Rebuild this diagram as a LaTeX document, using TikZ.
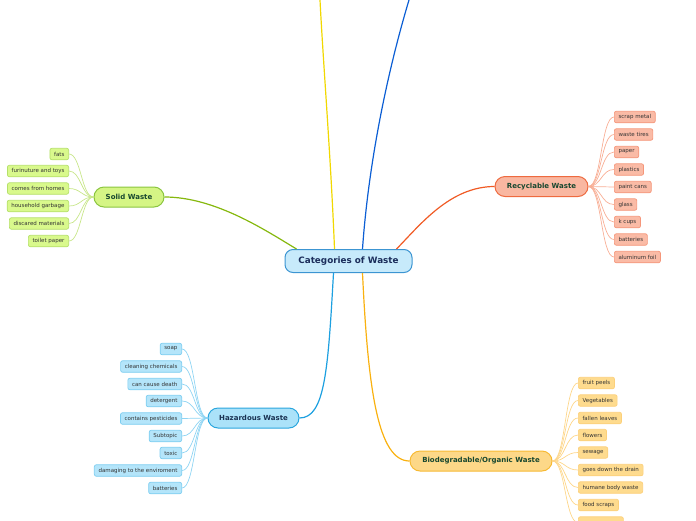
\documentclass[tikz,border=0pt]{standalone}
\usepackage{fontspec}
\setmainfont{DejaVu Sans}
\definecolor{cfill}{HTML}{C7EAFB}
\definecolor{cdraw}{HTML}{3C95D2}
\definecolor{ctext}{HTML}{1B2D5B}
\definecolor{mtext}{HTML}{17472F}
\definecolor{ltext}{HTML}{333333}
\definecolor{sfill}{HTML}{D5F585}
\definecolor{sdraw}{HTML}{8BC53F}
\definecolor{slfill}{HTML}{D9F98C}
\definecolor{sldraw}{HTML}{B5E06A}
\definecolor{slcon}{HTML}{C8E68A}
\definecolor{scon}{HTML}{86B80E}
\definecolor{rfill}{HTML}{F9B7A1}
\definecolor{rdraw}{HTML}{EE6A3F}
\definecolor{rlfill}{HTML}{FABBA6}
\definecolor{rldraw}{HTML}{F5967A}
\definecolor{rlcon}{HTML}{F8AE95}
\definecolor{rcon}{HTML}{F05A24}
\definecolor{hfill}{HTML}{ABE2F9}
\definecolor{hdraw}{HTML}{2AA6DE}
\definecolor{hlfill}{HTML}{B4E5FA}
\definecolor{hldraw}{HTML}{7CCDF0}
\definecolor{hlcon}{HTML}{8ED4F3}
\definecolor{hcon}{HTML}{1DA0E0}
\definecolor{bfill}{HTML}{FDD888}
\definecolor{bdraw}{HTML}{F7BA34}
\definecolor{blfill}{HTML}{FEDB8E}
\definecolor{bldraw}{HTML}{FCD07A}
\definecolor{blcon}{HTML}{FDD68A}
\definecolor{bcon}{HTML}{F9B10F}
\definecolor{ycon}{HTML}{F1D800}
\definecolor{dcon}{HTML}{0B5ED4}
\begin{document}
\begin{tikzpicture}[x=1pt,y=-1pt,
  leaf/.style={draw, rounded corners=2pt, minimum height=11.5pt, inner xsep=4.2pt, inner ysep=0pt,
    font=\fontsize{5.5}{6}\selectfont, text=ltext, line width=0.7pt},
  mainnode/.style={draw, rounded corners=10pt, minimum height=20pt, inner xsep=4pt, inner ysep=0pt,
    font=\bfseries\fontsize{7}{8}\selectfont, text=mtext, line width=1pt},
  sleaf/.style={leaf, fill=slfill, draw=sldraw, anchor=east},
  rleaf/.style={leaf, fill=rlfill, draw=rldraw, anchor=west},
  hleaf/.style={leaf, fill=hlfill, draw=hldraw, anchor=east},
  bleaf/.style={leaf, fill=blfill, draw=bldraw, anchor=west},
  maincon/.style={line width=1.2pt},
  leafcon/.style={line width=0.7pt}]
\useasboundingbox (0,0) rectangle (696,520);
\clip (0,0) rectangle (696,520);

% central
\node[draw=cdraw, fill=cfill, rounded corners=8pt, line width=1pt, minimum width=127pt, minimum height=23pt,
  inner sep=0pt, font=\bfseries\fontsize{8.8}{10}\selectfont, text=ctext] (c) at (348.5,261) {Categories of Waste};

% main topics
\node[mainnode, fill=sfill, draw=sdraw, minimum width=70pt] (solid) at (129,197) {Solid Waste};
\node[mainnode, fill=rfill, draw=rdraw, minimum width=93pt] (rec) at (541.5,186.5) {Recyclable Waste};
\node[mainnode, fill=hfill, draw=hdraw, minimum width=91pt, text=ctext!80!mtext] (haz) at (253.5,418) {Hazardous Waste};
\node[mainnode, fill=bfill, draw=bdraw, minimum width=142pt] (bio) at (481,461) {Biodegradable/Organic Waste};

% free ends of branches leaving the picture
\coordinate (topy) at (320,0);
\coordinate (topb) at (409,0);

% main connectors
\draw[maincon, draw=ycon] ([xshift=-14pt]c.north) .. controls (331,160) and (323,60) .. (topy);
\draw[maincon, draw=dcon] ([xshift=14pt]c.north) .. controls (368,170) and (385,80) .. (topb);
\draw[maincon, draw=scon] ([xshift=-52pt]c.north) .. controls (265,230) and (215,197) .. (solid.east);
\draw[maincon, draw=rcon] ([xshift=48pt]c.north) .. controls (420,225) and (450,186.5) .. (rec.west);
\draw[maincon, draw=hcon] ([xshift=-15pt]c.south) .. controls (328,370) and (325,418) .. (haz.east);
\draw[maincon, draw=bcon] ([xshift=14pt]c.south) .. controls (368,390) and (378,461) .. (bio.west);

% solid leaves
\node[sleaf] (s1) at (69,154) {fats};
\node[sleaf] (s2) at (69,171) {furinuture and toys};
\node[sleaf] (s3) at (69,188.5) {comes from homes};
\node[sleaf] (s4) at (69,206) {household garbage};
\node[sleaf] (s5) at (69,223.5) {discared materials};
\node[sleaf] (s6) at (69,241) {toilet paper};
\foreach \n in {s1,s2,s3,s4,s5,s6}
  \draw[leafcon, draw=slcon] (solid.west) .. controls ([xshift=-12pt]solid.west) and ([xshift=12pt]\n.east) .. (\n.east);

% recyclable leaves
\node[rleaf] (r1) at (614,117) {scrap metal};
\node[rleaf] (r2) at (614,134.5) {waste tires};
\node[rleaf] (r3) at (614,152) {paper};
\node[rleaf] (r4) at (614,169.5) {plastics};
\node[rleaf] (r5) at (614,187) {paint cans};
\node[rleaf] (r6) at (614,204.5) {glass};
\node[rleaf] (r7) at (614,222) {k cups};
\node[rleaf] (r8) at (614,239.5) {batteries};
\node[rleaf] (r9) at (614,257) {aluminum foil};
\foreach \n in {r1,r2,r3,r4,r5,r6,r7,r8,r9}
  \draw[leafcon, draw=rlcon] (rec.east) .. controls ([xshift=13pt]rec.east) and ([xshift=-13pt]\n.west) .. (\n.west);

% hazardous leaves
\node[hleaf] (h1) at (182,349) {soap};
\node[hleaf] (h2) at (182,366.5) {cleaning chemicals};
\node[hleaf] (h3) at (182,384) {can cause death};
\node[hleaf] (h4) at (182,401) {detergent};
\node[hleaf] (h5) at (182,418.5) {contains pesticides};
\node[hleaf] (h6) at (182,436) {Subtopic};
\node[hleaf] (h7) at (182,453) {toxic};
\node[hleaf] (h8) at (182,470.5) {damaging to the enviroment};
\node[hleaf] (h9) at (182,488) {batteries};
\foreach \n in {h1,h2,h3,h4,h5,h6,h7,h8,h9}
  \draw[leafcon, draw=hlcon] (haz.west) .. controls ([xshift=-13pt]haz.west) and ([xshift=13pt]\n.east) .. (\n.east);

% biodegradable leaves
\node[bleaf] (b1) at (578,383) {fruit peels};
\node[bleaf] (b2) at (578,400.5) {Vegetables};
\node[bleaf] (b3) at (578,418) {fallen leaves};
\node[bleaf] (b4) at (578,435) {flowers};
\node[bleaf] (b5) at (578,452.5) {sewage};
\node[bleaf] (b6) at (578,470) {goes down the drain};
\node[bleaf] (b7) at (578,487.5) {humane body waste};
\node[bleaf] (b8) at (578,505) {food scraps};
\node[bleaf, minimum width=45pt] (b9) at (578,522.5) {};
\foreach \n in {b1,b2,b3,b4,b5,b6,b7,b8,b9}
  \draw[leafcon, draw=blcon] (bio.east) .. controls ([xshift=13pt]bio.east) and ([xshift=-13pt]\n.west) .. (\n.west);
\end{tikzpicture}
\end{document}
